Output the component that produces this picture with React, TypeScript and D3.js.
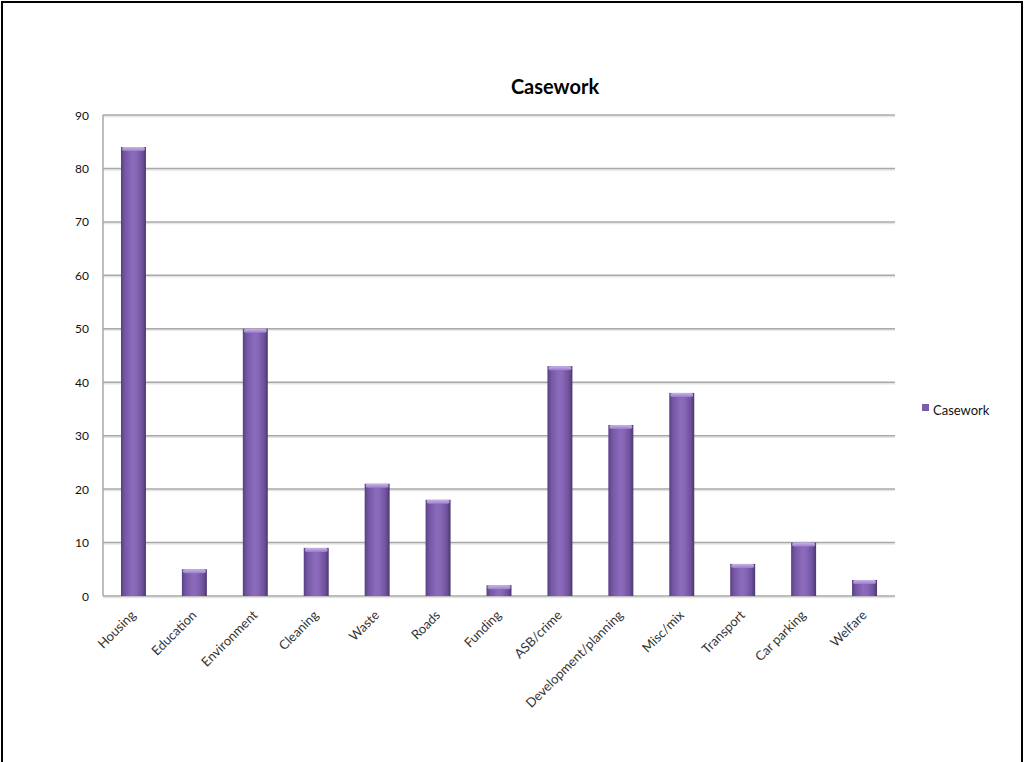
import React from "react";
import * as d3 from "d3";

const categories = ["Housing","Education","Environment","Cleaning","Waste","Roads","Funding","ASB/crime","Development/planning","Misc/mix","Transport","Car parking","Welfare"];
const values = [84,5,50,9,21,18,2,43,32,38,6,10,3];
const yTicks = [0,10,20,30,40,50,60,70,80,90];
const seriesName = "Casework";
const title = "Casework";

export default function App() {
  const W = 1026, H = 762;
  const left = 103, right = 895, top = 115, bottom = 596;
  const x = d3.scaleBand<string>().domain(categories).range([left, right]).paddingInner(0.59).paddingOuter(0.295);
  const y = d3.scaleLinear().domain([0, 90]).range([bottom, top]);
  const font = "Lato, 'Open Sans', sans-serif";
  return (
    <svg width={W} height={H} style={{ position: "absolute", left: 0, top: 0, background: "#fff" }} fontFamily={font}>
      <defs>
        <linearGradient id="barg" x1="0" x2="1" y1="0" y2="0">
          <stop offset="0" stopColor="#583f84" />
          <stop offset="0.15" stopColor="#7357a3" />
          <stop offset="0.45" stopColor="#8c6bbd" />
          <stop offset="0.6" stopColor="#8867b8" />
          <stop offset="0.85" stopColor="#6e529c" />
          <stop offset="1" stopColor="#4d376f" />
        </linearGradient>
        <linearGradient id="capg" x1="0" x2="0" y1="0" y2="1">
          <stop offset="0" stopColor="#c9b4ea" />
          <stop offset="1" stopColor="#9a7ec8" />
        </linearGradient>
      </defs>
      <rect x={2} y={2} width={1020} height={800} fill="#fff" stroke="#000" strokeWidth={2} />
      <text x={555} y={94} textAnchor="middle" fontSize={20} fontWeight="bold" fill="#000">{title}</text>
      {yTicks.map(t => (
        <g key={t}>
          <line x1={left} x2={right} y1={y(t) + 1.5} y2={y(t) + 1.5} stroke="#e6e6e6" strokeWidth={1.5} />
          <line x1={left} x2={right} y1={y(t)} y2={y(t)} stroke="#a8a8a8" strokeWidth={1.5} />
          <text x={89} y={y(t) + 4.5} textAnchor="end" fontSize={12} fill="#111">{t}</text>
        </g>
      ))}
      <line x1={left} x2={left} y1={top} y2={bottom} stroke="#a8a8a8" strokeWidth={1.5} />
      {categories.map((c, i) => {
        const bx = x(c)!;
        const bw = x.bandwidth();
        const by = y(values[i]);
        return (
          <g key={c}>
            <rect x={bx} y={by} width={bw} height={bottom - by} fill="url(#barg)" />
            <rect x={bx + 1} y={by} width={bw - 2} height={4} fill="url(#capg)" rx={2} />
            <text transform={`translate(${bx + bw / 2 + 3},${bottom + 20}) rotate(-45)`} textAnchor="end" fontSize={13} fill="#333">{c}</text>
          </g>
        );
      })}
      <rect x={922} y={404} width={7} height={7} fill="#7a5fa8" />
      <text x={933} y={415} fontSize={13} fill="#111">{seriesName}</text>
    </svg>
  );
}
